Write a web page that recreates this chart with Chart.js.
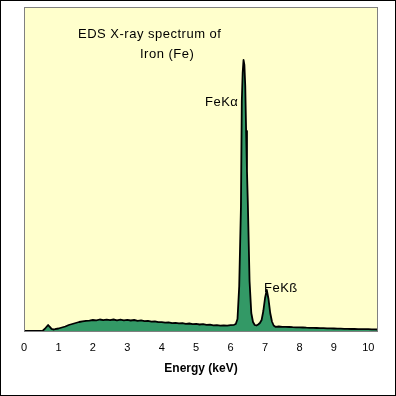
<!DOCTYPE html>
<html>
<head>
<meta charset="utf-8">
<script src="https://cdn.jsdelivr.net/npm/chart.js@4/dist/chart.umd.min.js"></script>
<style>
  body { margin: 0; background: #fff; }
  canvas { display: block; }
</style>
</head>
<body>
<canvas id="edsChart" width="396" height="396"></canvas>
<script>
// spectrum (energy in keV, counts in arbitrary units)
const energy = [
  0, 0.5, 0.55, 0.6, 0.65, 0.7, 0.75, 0.8, 0.85, 0.9,
  1.0, 1.1, 1.2, 1.3, 1.4, 1.5, 1.6, 1.7, 1.8, 1.9,
  2.0, 2.1, 2.2, 2.3, 2.4, 2.5, 2.6, 2.7, 2.8, 2.9,
  3.0, 3.1, 3.2, 3.3, 3.4, 3.5, 3.6, 3.7, 3.8, 3.9,
  4.0, 4.1, 4.2, 4.3, 4.4, 4.5, 4.6, 4.7, 4.8, 4.9,
  5.0, 5.1, 5.2, 5.3, 5.4, 5.5, 5.6, 5.7, 5.8, 5.9,
  6.0, 6.1, 6.15, 6.2, 6.25, 6.3, 6.325, 6.35, 6.375, 6.4,
  6.425, 6.45, 6.475, 6.5, 6.55, 6.6, 6.65, 6.7, 6.75, 6.8,
  6.85, 6.9, 6.95, 7.0, 7.05, 7.1, 7.15, 7.2, 7.25, 7.3,
  7.4, 7.5, 7.6, 7.7, 7.8, 7.9, 8.0, 8.1, 8.2, 8.3,
  8.4, 8.5, 8.6, 8.7, 8.8, 8.9, 9.0, 9.1, 9.2, 9.3,
  9.4, 9.5, 9.6, 9.7, 9.8, 9.9, 10.0, 10.1, 10.2, 10.28
];
const counts = [
  0, 0, 5, 20, 40, 60, 42, 22, 15, 18,
  25, 35, 45, 60, 70, 80, 90, 96, 102, 104,
  110, 106, 115, 109, 114, 108, 115, 107, 113, 106,
  112, 105, 110, 102, 106, 98, 102, 94, 97, 89,
  88, 83, 86, 79, 82, 76, 79, 72, 75, 69,
  71, 65, 68, 61, 64, 57, 58, 53, 57, 54,
  58, 62, 70, 120, 450, 1240, 2300, 2580, 2710, 2660,
  2450, 2000, 1600, 1280, 500, 180, 90, 60, 55, 65,
  80, 110, 200, 330, 410, 320, 180, 95, 55, 42,
  45, 42, 41, 40, 38, 37, 36, 35, 33, 32,
  31, 30, 29, 28, 27, 26, 25, 24, 23, 22,
  21, 20, 20, 19, 19, 18, 18, 17, 16, 15
];
const tickValues = [0, 1, 2, 3, 4, 5, 6, 7, 8, 9, 10];
const titleLines = ["EDS X-ray spectrum of", "Iron (Fe)"];
const peakLabels = ["FeKα", "FeKß"];

const font = "'Liberation Sans', Arial, sans-serif";

const framePlugin = {
  id: 'frame',
  beforeDraw(chart) {
    const c = chart.ctx, a = chart.chartArea;
    c.save();
    c.fillStyle = '#ffffff';
    c.fillRect(0, 0, chart.width, chart.height);
    c.fillStyle = '#FFFFCC';
    c.fillRect(a.left, a.top, a.right - a.left, a.bottom - a.top);
    c.restore();
  },
  afterDraw(chart) {
    const c = chart.ctx, a = chart.chartArea;
    c.save();
    c.strokeStyle = '#808080';
    c.lineWidth = 1;
    c.strokeRect(a.left + 0.5, a.top + 0.5, a.right - a.left - 1, a.bottom - a.top);
    c.strokeStyle = '#000000';
    c.strokeRect(0.5, 0.5, chart.width - 1, chart.height - 1);

    c.fillStyle = '#000000';
    c.textBaseline = 'alphabetic';
    c.textAlign = 'left';
    c.font = '13px ' + font;
    c.letterSpacing = '0.5px';
    c.fillText(titleLines[0], 78, 38);
    c.fillText(titleLines[1], 140, 58);
    c.fillText(peakLabels[0], 205, 106);
    c.fillText(peakLabels[1], 264, 292);
    c.restore();
  }
};

new Chart(document.getElementById('edsChart'), {
  type: 'line',
  data: {
    datasets: [{
      data: energy.map((e, i) => ({ x: e, y: counts[i] })),
      borderColor: '#000000',
      borderWidth: 1.8,
      borderJoinStyle: 'round',
      backgroundColor: '#339966',
      fill: 'origin',
      pointRadius: 0,
      tension: 0
    }]
  },
  options: {
    responsive: false,
    animation: false,
    layout: { padding: { left: 24, top: 7, right: 18, bottom: 0 } },
    plugins: { legend: { display: false }, tooltip: { enabled: false } },
    scales: {
      x: {
        type: 'linear',
        min: 0,
        max: 10.28,
        grid: { display: false, drawTicks: false },
        border: { display: false },
        afterBuildTicks: (scale) => { scale.ticks = tickValues.map(v => ({ value: v })); },
        afterFit: (scale) => { scale.height = 65; },
        ticks: {
          autoSkip: false,
          maxRotation: 0,
          padding: 10,
          color: '#000',
          font: { family: font, size: 11 }
        },
        title: {
          display: true,
          text: 'Energy (keV)',
          color: '#000',
          font: { family: font, size: 12, weight: 'bold' },
          padding: { top: 4, bottom: 20 }
        }
      },
      y: {
        display: false,
        min: 0,
        max: 3240
      }
    }
  },
  plugins: [framePlugin]
});
</script>
</body>
</html>
